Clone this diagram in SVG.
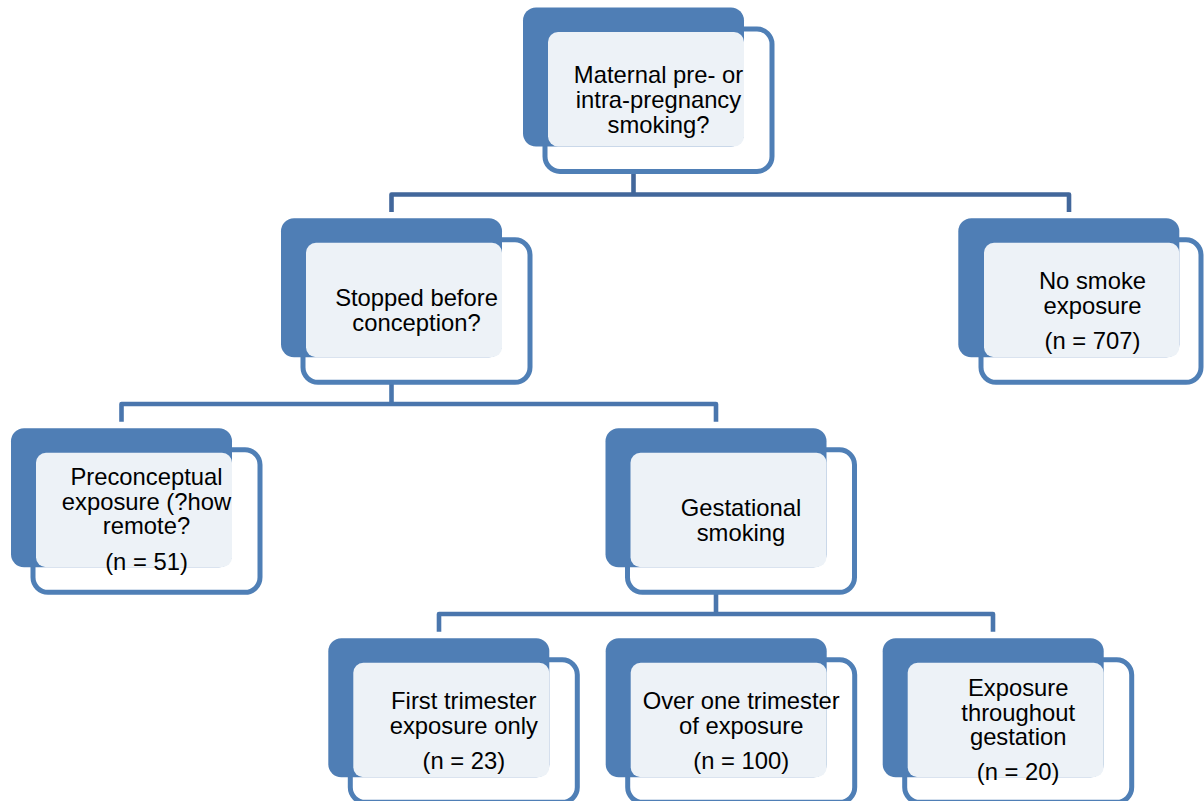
<svg xmlns="http://www.w3.org/2000/svg" width="1204" height="801" viewBox="0 0 1204 801">
  <style>
    .frame { fill: #ffffff; stroke: #4f7fb6; stroke-width: 5; }
    .back { fill: #4f7eb5; }
    .panel { fill: #edf2f7; }
    .label { font-family: "Liberation Sans", Arial, sans-serif; font-size: 23.8px; fill: #000000; text-anchor: middle; }
    .link { fill: none; stroke-width: 4.6; stroke-linejoin: round; }
    .top { stroke: #42679b; }
    .mid { stroke: #4a76ad; }
    .stub { fill: none; stroke: #e3e9f1; stroke-width: 4.6; }
  </style>
  <rect width="1204" height="801" fill="#ffffff"/>

  <!-- connectors -->
  <g id="connectors">
    <line class="stub" x1="633.5" y1="152.5" x2="633.5" y2="169"/>
    <path class="link top" d="M633.5,171 V194.5"/>
    <path class="link top" d="M391.5,212 V194.5 H1069 V212"/>

    <line class="stub" x1="391.5" y1="363" x2="391.5" y2="380"/>
    <path class="link mid" d="M391.5,382 V404"/>
    <path class="link mid" d="M121.5,421.7 V404 H716 V421.7"/>

    <line class="stub" x1="716" y1="573.5" x2="716" y2="590"/>
    <path class="link mid" d="M716,592 V614"/>
    <path class="link mid" d="M439,631.7 V614 H993 V631.7"/>
  </g>

  <!-- root question -->
  <g id="node-maternal-smoking">
    <rect class="frame" x="545" y="29" width="227" height="142.5" rx="15"/>
    <rect class="back" x="523" y="7.5" width="221" height="139" rx="13"/>
    <rect class="panel" x="548" y="32" width="196" height="114.5" rx="10"/>
    <text class="label" x="658.5" y="83.3">Maternal pre- or</text>
    <text class="label" x="658.5" y="107.9">intra-pregnancy</text>
    <text class="label" x="658.5" y="132.5">smoking?</text>
  </g>

  <g id="node-stopped-before">
    <rect class="frame" x="303" y="239.8" width="227" height="142.5" rx="15"/>
    <rect class="back" x="281" y="218.3" width="221" height="139" rx="13"/>
    <rect class="panel" x="306" y="242.8" width="196" height="114.5" rx="10"/>
    <text class="label" x="416.5" y="306">Stopped before</text>
    <text class="label" x="416.5" y="330.6">conception?</text>
  </g>

  <g id="node-no-smoke">
    <rect class="frame" x="981" y="239.8" width="220" height="142.5" rx="15"/>
    <rect class="back" x="958.3" y="218.3" width="221" height="139" rx="13"/>
    <rect class="panel" x="984" y="242.8" width="195.3" height="114.5" rx="10"/>
    <text class="label" x="1092.5" y="289">No smoke</text>
    <text class="label" x="1092.5" y="313.6">exposure</text>
    <text class="label" x="1092.5" y="349">(n = 707)</text>
  </g>

  <g id="node-preconceptual">
    <rect class="frame" x="33" y="449.8" width="227" height="142.5" rx="15"/>
    <rect class="back" x="11" y="428.3" width="221" height="139" rx="13"/>
    <rect class="panel" x="36" y="452.8" width="196" height="114.5" rx="10"/>
    <text class="label" x="146.5" y="485">Preconceptual</text>
    <text class="label" x="146.5" y="509.6">exposure (?how</text>
    <text class="label" x="146.5" y="534.2">remote?</text>
    <text class="label" x="146.5" y="570">(n = 51)</text>
  </g>

  <g id="node-gestational">
    <rect class="frame" x="627.5" y="449.8" width="227" height="142.5" rx="15"/>
    <rect class="back" x="605.5" y="428.3" width="221" height="139" rx="13"/>
    <rect class="panel" x="630.5" y="452.8" width="196" height="114.5" rx="10"/>
    <text class="label" x="741" y="516">Gestational</text>
    <text class="label" x="741" y="540.6">smoking</text>
  </g>

  <g id="node-first-trimester">
    <rect class="frame" x="350.3" y="659.8" width="227" height="142.5" rx="15"/>
    <rect class="back" x="328.3" y="638.3" width="221" height="139" rx="13"/>
    <rect class="panel" x="353.3" y="662.8" width="196" height="114.5" rx="10"/>
    <text class="label" x="463.8" y="709">First trimester</text>
    <text class="label" x="463.8" y="733.6">exposure only</text>
    <text class="label" x="463.8" y="769">(n = 23)</text>
  </g>

  <g id="node-over-one-trimester">
    <rect class="frame" x="627.7" y="659.8" width="227" height="142.5" rx="15"/>
    <rect class="back" x="605.7" y="638.3" width="221" height="139" rx="13"/>
    <rect class="panel" x="630.7" y="662.8" width="196" height="114.5" rx="10"/>
    <text class="label" x="741.2" y="709">Over one trimester</text>
    <text class="label" x="741.2" y="733.6">of exposure</text>
    <text class="label" x="741.2" y="769">(n = 100)</text>
  </g>

  <g id="node-throughout">
    <rect class="frame" x="904.7" y="659.8" width="227" height="142.5" rx="15"/>
    <rect class="back" x="882.7" y="638.3" width="221" height="139" rx="13"/>
    <rect class="panel" x="907.7" y="662.8" width="196" height="114.5" rx="10"/>
    <text class="label" x="1018.2" y="696">Exposure</text>
    <text class="label" x="1018.2" y="720.6">throughout</text>
    <text class="label" x="1018.2" y="745.2">gestation</text>
    <text class="label" x="1018.2" y="780">(n = 20)</text>
  </g>
</svg>
